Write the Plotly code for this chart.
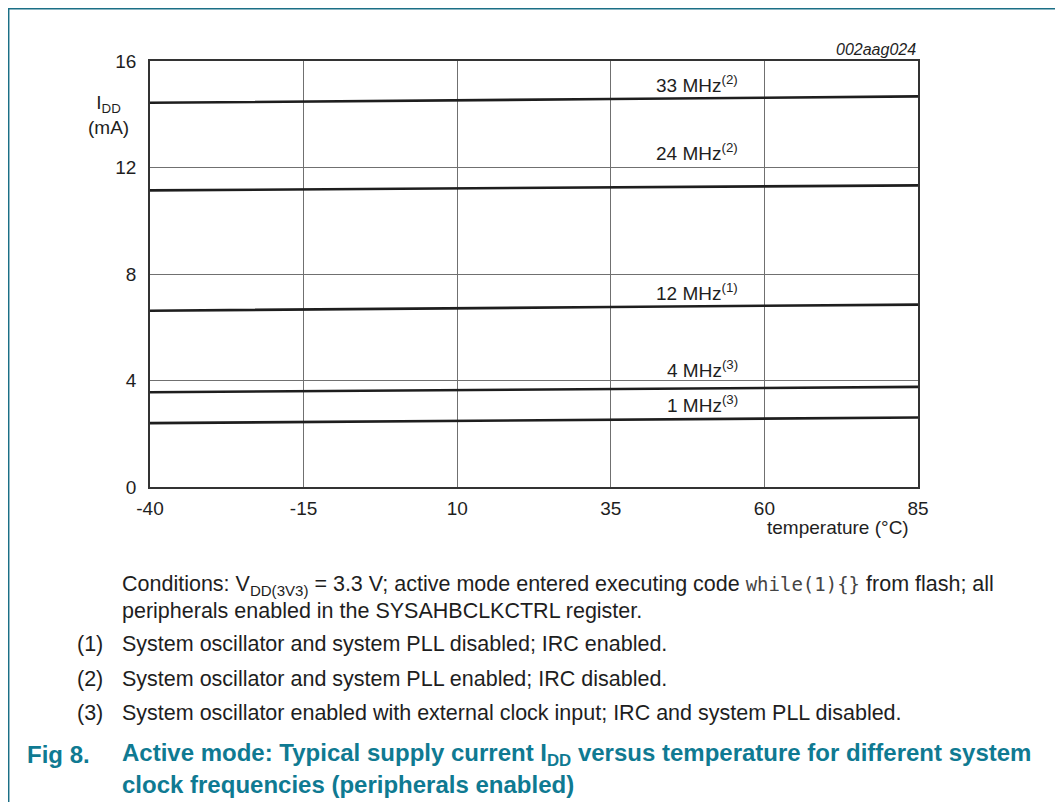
import plotly.graph_objects as go

# ---- data ----
temperature = [-40, -15, 10, 35, 60, 85]
idd_33mhz = [14.43, 14.47, 14.52, 14.57, 14.62, 14.67]
idd_24mhz = [11.14, 11.18, 11.22, 11.26, 11.30, 11.33]
idd_12mhz = [6.62, 6.66, 6.71, 6.76, 6.81, 6.85]
idd_4mhz = [3.56, 3.60, 3.64, 3.68, 3.72, 3.76]
idd_1mhz = [2.40, 2.44, 2.48, 2.53, 2.57, 2.61]
series = [
    ("33 MHz", "(2)", idd_33mhz, 15.12),
    ("24 MHz", "(2)", idd_24mhz, 12.57),
    ("12 MHz", "(1)", idd_12mhz, 7.31),
    ("4 MHz", "(3)", idd_4mhz, 4.43),
    ("1 MHz", "(3)", idd_1mhz, 3.11),
]
x_ticks = [-40, -15, 10, 35, 60, 85]
y_ticks = [0, 4, 8, 12, 16]

W, H = 1063, 802
OFF = 8  # page body margin
L, R, T, B = 150 - OFF, 918 - OFF, 61 - OFF, 487 - OFF


def px_x(px):
    return (px - OFF - L) / (R - L)


def px_y(py):
    return (B - (py - OFF)) / (B - T)


TEAL = "#0f7a92"
TXT = "#1e1e1e"
FONT = "Liberation Sans, Arial, sans-serif"

fig = go.Figure()
for name, note, vals, ly in series:
    fig.add_trace(go.Scatter(x=temperature, y=vals, mode="lines",
                             line=dict(color="#1e1e1e", width=2.6),
                             name=name, showlegend=False, hoverinfo="skip"))

annotations = []
for name, note, vals, ly in series:
    annotations.append(dict(x=56, y=ly, xref="x", yref="y", xanchor="right", yanchor="middle",
                            text=f"{name}<sup>{note}</sup>", showarrow=False,
                            font=dict(size=19, color=TXT, family=FONT)))


def ann(px, py, text, size=21.5, color=TXT, xanchor="left", bold=False, italic=False, family=FONT):
    t = text
    if bold:
        t = f"<b>{t}</b>"
    if italic:
        t = f"<i>{t}</i>"
    annotations.append(dict(x=px_x(px), y=px_y(py), xref="paper", yref="paper",
                            xanchor=xanchor, yanchor="middle", text=t, showarrow=False,
                            font=dict(size=size, color=color, family=family)))


ann(918, 50, "002aag024", size=16, xanchor="right", italic=True)
ann(108, 115, "I<sub>DD</sub><br>(mA)", size=19, xanchor="center")
ann(911, 527, "temperature (°C)", size=19, xanchor="right")
ann(120, 585, "Conditions: V<sub>DD(3V3)</sub> = 3.3 V; active mode entered executing code "
    "<span style=\"font-family:'DejaVu Sans Mono',monospace;font-size:19px;color:#444\">while(1){}</span>"
    " from flash; all")
ann(120, 611, "peripherals enabled in the SYSAHBCLKCTRL register.")
ann(75, 644, "(1)")
ann(120, 644, "System oscillator and system PLL disabled; IRC enabled.")
ann(75, 679, "(2)")
ann(120, 679, "System oscillator and system PLL enabled; IRC disabled.")
ann(75, 713, "(3)")
ann(120, 713, "System oscillator enabled with external clock input; IRC and system PLL disabled.")
ann(25, 754, "Fig 8.", size=24, color=TEAL, bold=True)
ann(120, 754, "Active mode: Typical supply current I<sub>DD</sub> versus temperature for different system",
    size=24, color=TEAL, bold=True)
ann(120, 784, "clock frequencies (peripherals enabled)", size=24, color=TEAL, bold=True)

shapes = [dict(type="rect", xref="paper", yref="paper",
               x0=px_x(8.7), x1=px_x(1061), y0=px_y(840), y1=px_y(8.7),
               line=dict(color="#1b6f86", width=1.5), layer="below")]

fig.update_layout(
    width=W, height=H,
    margin=dict(l=L, r=W - R, t=T, b=H - B, pad=0),
    paper_bgcolor="white", plot_bgcolor="white",
    annotations=annotations, shapes=shapes,
    xaxis=dict(range=[-40, 85], tickvals=x_ticks, ticktext=[str(v) for v in x_ticks],
               showgrid=True, gridcolor="#707070", gridwidth=1, zeroline=False,
               showline=True, linecolor="#333333", linewidth=1.5, mirror=True,
               ticks="outside", ticklen=3, tickcolor="rgba(0,0,0,0)",
               tickfont=dict(size=19, color=TXT, family=FONT)),
    yaxis=dict(range=[0, 16], tickvals=y_ticks, ticktext=[str(v) for v in y_ticks],
               showgrid=True, gridcolor="#707070", gridwidth=1, zeroline=False,
               showline=True, linecolor="#333333", linewidth=1.5, mirror=True,
               ticks="outside", ticklen=8, tickcolor="rgba(0,0,0,0)",
               tickfont=dict(size=19, color=TXT, family=FONT)),
)

fig.write_html("out.html")
